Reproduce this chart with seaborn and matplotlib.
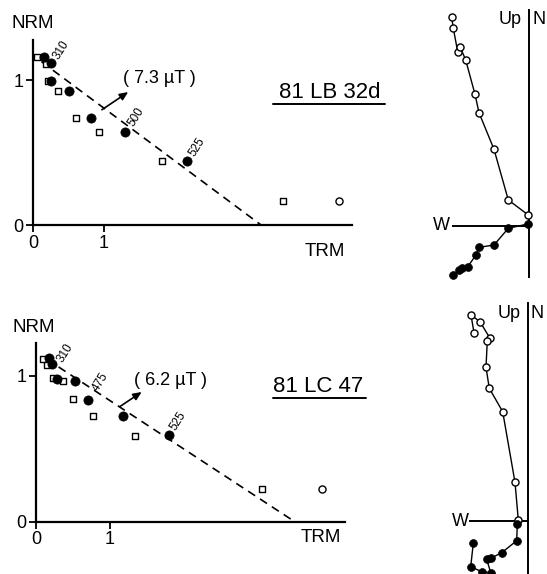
import matplotlib
matplotlib.use("Agg")
import matplotlib.pyplot as plt
import seaborn as sns
import pandas as pd

# ---------------- data ----------------
# Top Arai diagram (81 LB 32d)
a_trm_fill = [0.155, 0.25, 0.26, 0.50, 0.82, 1.30, 2.17]
a_nrm_fill = [1.16, 1.115, 0.993, 0.924, 0.74, 0.64, 0.44]
a_trm_chk = [0.06, 0.19, 0.21, 0.35, 0.61, 0.93, 1.81, 3.52]
a_nrm_chk = [1.157, 1.11, 0.99, 0.924, 0.74, 0.64, 0.44, 0.168]
a_trm_open = [4.30]
a_nrm_open = [0.168]
a_fit_x = [0.12, 3.21]
a_fit_y = [1.126, 0.0]
a_field = "( 7.3 µT )"
a_name = "81 LB 32d"
a_temps = ["310", "500", "525"]

# Bottom Arai diagram (81 LC 47)
b_trm_fill = [0.18, 0.21, 0.29, 0.53, 0.70, 1.18, 1.80]
b_nrm_fill = [1.12, 1.08, 0.98, 0.966, 0.835, 0.725, 0.595]
b_trm_chk = [0.10, 0.145, 0.235, 0.37, 0.50, 0.77, 1.34, 3.06]
b_nrm_chk = [1.115, 1.075, 0.984, 0.968, 0.84, 0.725, 0.588, 0.222]
b_trm_open = [3.87]
b_nrm_open = [0.222]
b_fit_x = [0.145, 3.50]
b_fit_y = [1.115, 0.0]
b_field = "( 6.2 µT )"
b_name = "81 LC 47"
b_temps = ["310", "475", "525"]

arai_ticks = [0, 1]
arai_ticklabels = ["0", "1"]

# Zijderveld diagrams (W negative, N/Up positive), arbitrary units
za_vert_x = [-7.76, -7.60, -7.16, -6.93, -6.36, -5.43, -5.03, -3.53, -2.10, -0.10]
za_vert_y = [20.87, 19.77, 17.43, 17.93, 16.60, 13.17, 11.33, 7.67, 2.60, 1.10]
za_hor_x = [-0.16, -2.10, -3.53, -5.00, -5.33, -6.16, -6.76, -7.00, -7.60]
za_hor_y = [0.20, -0.23, -1.90, -2.13, -2.90, -4.07, -4.17, -4.40, -4.90]

zb_vert_x = [-5.43, -5.73, -4.83, -3.83, -4.10, -4.23, -3.90, -2.56, -1.33, -1.00]
zb_vert_y = [18.83, 20.60, 19.93, 18.27, 18.03, 15.37, 13.27, 10.93, 3.87, 0.10]
zb_hor_x = [-1.10, -1.16, -2.66, -3.76, -4.16, -3.76, -4.66, -5.76, -5.50]
zb_hor_y = [-0.30, -1.97, -3.17, -3.73, -3.83, -5.17, -5.07, -4.57, -2.23]

# ---------------- figure ----------------
sns.set_style("white")
plt.rcParams['font.family'] = ['Liberation Sans', 'DejaVu Sans']
plt.rcParams['text.color'] = 'black'
plt.rcParams['axes.labelcolor'] = 'black'
plt.rcParams['xtick.color'] = 'black'
plt.rcParams['ytick.color'] = 'black'
plt.rcParams['axes.edgecolor'] = 'black'

W, H = 547, 574
fig = plt.figure(figsize=(W / 100, H / 100), dpi=100)


def ax_px(x0, y0, x1, y1):
    return fig.add_axes([x0 / W, 1 - y1 / H, (x1 - x0) / W, (y1 - y0) / H])


def ftext(x, y, s, **kw):
    fig.text(x / W, 1 - y / H, s, color="black", **kw)


def arai(ax, xmax, ymax, tf, nf, tc, nc, to, no, fx, fy, arrow, field_xy, field,
         name_xy, name, uline, temps, temp_xy):
    ax.set_xlim(0, xmax)
    ax.set_ylim(0, ymax)
    for s in ["top", "right"]:
        ax.spines[s].set_visible(False)
    for s in ["left", "bottom"]:
        ax.spines[s].set_linewidth(1.6)
        ax.spines[s].set_color("black")
    ax.set_xticks(arai_ticks)
    ax.set_xticklabels(arai_ticklabels)
    ax.set_yticks(arai_ticks)
    ax.set_yticklabels(arai_ticklabels)
    ax.tick_params(direction="out", length=5, width=1.3, labelsize=13, pad=2,
                   left=True, bottom=True, colors="black", labelcolor="black")
    ax.set_xlabel("")
    ax.set_ylabel("")
    ax.plot(fx, fy, color="black", lw=1.2, ls=(0, (5, 3.5)), zorder=2)
    sns.scatterplot(x=tc, y=nc, marker="s", s=22, color="white", edgecolor="black",
                    linewidth=1.0, ax=ax, zorder=3, clip_on=False)
    sns.scatterplot(x=tf, y=nf, marker="o", s=44, color="black", edgecolor="black",
                    linewidth=0.5, ax=ax, zorder=4, clip_on=False)
    sns.scatterplot(x=to, y=no, marker="o", s=26, color="white", edgecolor="black",
                    linewidth=1.0, ax=ax, zorder=4, clip_on=False)
    ax.annotate("", xy=arrow[1], xytext=arrow[0],
                arrowprops=dict(arrowstyle="-|>,head_length=0.5,head_width=0.22",
                                color="black", lw=1.2, shrinkA=0, shrinkB=0))
    ax.text(*field_xy, field, fontsize=13, ha="center", va="center", color="black")
    ax.text(*name_xy, name, fontsize=16, ha="center", va="center", clip_on=False,
            color="black")
    ax.plot(uline[0], uline[1], color="black", lw=1.4, clip_on=False)
    for t, (x, y) in zip(temps, temp_xy):
        ax.text(x, y, t, fontsize=8.5, rotation=58, ha="center", va="center",
                color="black")
    ax.patch.set_alpha(0)


# Top Arai: axis from px 33..352 (x), 40..225 (y)
ax1 = ax_px(33, 40, 352, 225)
arai(ax1, 4.49, 1.276, a_trm_fill, a_nrm_fill, a_trm_chk, a_nrm_chk,
     a_trm_open, a_nrm_open, a_fit_x, a_fit_y,
     ((0.97, 0.795), (1.34, 0.917)), (1.78, 1.01), a_field,
     (4.17, 0.917), a_name, ([3.38, 4.96], [0.835, 0.835]),
     a_temps, [(0.40, 1.205), (1.45, 0.745), (2.31, 0.535)])

# Bottom Arai: axis from px 36..345 (x), 343..521.7 (y)
ax2 = ax_px(36, 343, 345, 521.7)
arai(ax2, 4.18, 1.226, b_trm_fill, b_nrm_fill, b_trm_chk, b_nrm_chk,
     b_trm_open, b_nrm_open, b_fit_x, b_fit_y,
     ((1.135, 0.79), (1.43, 0.89)), (1.82, 0.97), b_field,
     (3.82, 0.925), b_name, ([3.20, 4.46], [0.85, 0.85]),
     b_temps, [(0.39, 1.16), (0.875, 0.96), (1.92, 0.69)])

ftext(33, 24, "NRM", fontsize=13.5, ha="center", va="center")
ftext(325, 251, "TRM", fontsize=13.5, ha="center", va="center")
ftext(34, 327, "NRM", fontsize=13.5, ha="center", va="center")
ftext(321, 538, "TRM", fontsize=13.5, ha="center", va="center")


def zij(ax, xlim, ylim, vb, hb, vx, vy, hx, hy):
    ax.set_xlim(*xlim)
    ax.set_ylim(*ylim)
    ax.set_xticks([])
    ax.set_yticks([])
    for s in ["top", "right"]:
        ax.spines[s].set_visible(False)
    ax.spines["left"].set_position(("data", 0))
    ax.spines["left"].set_bounds(*vb)
    ax.spines["bottom"].set_position(("data", 0))
    ax.spines["bottom"].set_bounds(*hb)
    for s in ["left", "bottom"]:
        ax.spines[s].set_linewidth(1.4)
        ax.spines[s].set_color("black")
    dv = pd.DataFrame({"x": vx, "y": vy})
    dh = pd.DataFrame({"x": hx, "y": hy})
    sns.lineplot(data=dv, x="x", y="y", sort=False, estimator=None, color="black",
                 lw=1.0, ax=ax, zorder=2)
    sns.lineplot(data=dh, x="x", y="y", sort=False, estimator=None, color="black",
                 lw=1.0, ax=ax, zorder=2)
    sns.scatterplot(data=dv, x="x", y="y", marker="o", s=26, color="white",
                    edgecolor="black", linewidth=1.0, ax=ax, zorder=3)
    sns.scatterplot(data=dh, x="x", y="y", marker="o", s=32, color="black",
                    edgecolor="black", linewidth=0.5, ax=ax, zorder=3)
    ax.set_xlabel("")
    ax.set_ylabel("")
    ax.patch.set_alpha(0)


# Top Zijderveld: origin at px (529.3, 226), 10 px per unit
ax3 = ax_px(430, 0, 547, 290)
zij(ax3, (-9.93, 1.77), (-6.4, 22.6), (-5.1, 21.6), (-7.6, 0),
    za_vert_x, za_vert_y, za_hor_x, za_hor_y)
ftext(441.5, 226, "W", fontsize=13, ha="center", va="center")
ftext(522, 20, "Up", fontsize=13, ha="right", va="center")
ftext(532, 20, "N", fontsize=13, ha="left", va="center")

# Bottom Zijderveld: origin at px (528.3, 521)
ax4 = ax_px(430, 290, 547, 574)
zij(ax4, (-9.83, 1.87), (-5.3, 23.1), (-5.3, 21.8), (-5.83, 0),
    zb_vert_x, zb_vert_y, zb_hor_x, zb_hor_y)
ftext(460.5, 521, "W", fontsize=13, ha="center", va="center")
ftext(521, 313, "Up", fontsize=13, ha="right", va="center")
ftext(531, 313, "N", fontsize=13, ha="left", va="center")

fig.savefig("out.png", dpi=100)
